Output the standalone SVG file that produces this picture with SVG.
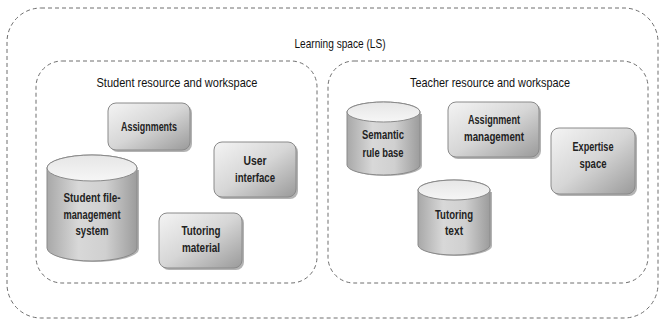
<svg xmlns="http://www.w3.org/2000/svg" width="665" height="326" viewBox="0 0 665 326">
<defs>
<linearGradient id="boxg" x1="0" y1="0" x2="1" y2="1">
<stop offset="0" stop-color="#f4f4f4"/>
<stop offset="0.5" stop-color="#d6d6d6"/>
<stop offset="1" stop-color="#9a9a9a"/>
</linearGradient>
<linearGradient id="cylg" x1="0" y1="0" x2="1" y2="0">
<stop offset="0" stop-color="#a8a8a8"/>
<stop offset="0.35" stop-color="#d8d8d8"/>
<stop offset="0.65" stop-color="#d0d0d0"/>
<stop offset="1" stop-color="#9c9c9c"/>
</linearGradient>
<linearGradient id="topg" x1="0" y1="0" x2="0" y2="1">
<stop offset="0" stop-color="#e6e6e6"/>
<stop offset="1" stop-color="#f6f6f6"/>
</linearGradient>
</defs>
<style>
.dash{fill:none;stroke:#6e6e6e;stroke-width:1;stroke-dasharray:4 3}
.box{fill:url(#boxg);stroke:#8a8a8a;stroke-width:1}
.shadow{fill:#808080;opacity:0.6}
.cyl{fill:url(#cylg);stroke:#8a8a8a;stroke-width:1}
.top{fill:url(#topg);stroke:#8a8a8a;stroke-width:1}
.head{font-family:"Liberation Sans",Arial,sans-serif;font-size:13px;fill:#111;text-anchor:middle}
.lbl{font-family:"Liberation Sans",Arial,sans-serif;font-size:12px;font-weight:bold;fill:#222;text-anchor:middle}
</style>
<g id="learning-space">
<rect class="dash" x="7" y="8" width="651" height="310" rx="34" ry="34"/>
<text class="head" x="340" y="48" textLength="91" lengthAdjust="spacingAndGlyphs">Learning space (LS)</text>
</g>
<g id="student-workspace">
<rect class="dash" x="36" y="61" width="281" height="222" rx="26" ry="26"/>
<text class="head" x="177" y="87" textLength="161" lengthAdjust="spacingAndGlyphs">Student resource and workspace</text>
</g>
<g id="teacher-workspace">
<rect class="dash" x="328" y="61" width="320" height="222" rx="26" ry="26"/>
<text class="head" x="490" y="87" textLength="160" lengthAdjust="spacingAndGlyphs">Teacher resource and workspace</text>
</g>
<g id="assignments">
<rect class="shadow" x="110" y="105" width="82" height="47" rx="8"/>
<rect class="box" x="108" y="103" width="82" height="47" rx="8"/>
<text class="lbl" x="149" y="131" textLength="56" lengthAdjust="spacingAndGlyphs">Assignments</text>
</g>
<g id="user-interface">
<rect class="shadow" x="216" y="144" width="82" height="55" rx="8"/>
<rect class="box" x="214" y="142" width="82" height="55" rx="8"/>
<text class="lbl" x="255" y="165" textLength="23" lengthAdjust="spacingAndGlyphs">User</text>
<text class="lbl" x="255" y="182" textLength="40" lengthAdjust="spacingAndGlyphs">interface</text>
</g>
<g id="student-file-management">
<path class="shadow" d="M49,170 L49,249 A45,13 0 0 0 139,249 L139,170 Z"/>
<path class="cyl" d="M47,168 L47,248 A45,13 0 0 0 137,248 L137,168 A45,13 0 0 0 47,168 Z"/>
<ellipse class="top" cx="92" cy="168" rx="45" ry="13"/>
<text class="lbl" x="92" y="202" textLength="57" lengthAdjust="spacingAndGlyphs">Student file-</text>
<text class="lbl" x="92" y="219" textLength="57" lengthAdjust="spacingAndGlyphs">management</text>
<text class="lbl" x="92" y="235" textLength="33" lengthAdjust="spacingAndGlyphs">system</text>
</g>
<g id="tutoring-material">
<rect class="shadow" x="161" y="215" width="83" height="55" rx="8"/>
<rect class="box" x="159" y="213" width="83" height="55" rx="8"/>
<text class="lbl" x="201" y="235" textLength="39" lengthAdjust="spacingAndGlyphs">Tutoring</text>
<text class="lbl" x="201" y="252" textLength="38" lengthAdjust="spacingAndGlyphs">material</text>
</g>
<g id="semantic-rule-base">
<path class="shadow" d="M349,114 L349,166 A36.5,10 0 0 0 422,166 L422,114 Z"/>
<path class="cyl" d="M347,112 L347,165 A36.5,10 0 0 0 420,165 L420,112 A36.5,10 0 0 0 347,112 Z"/>
<ellipse class="top" cx="383.5" cy="112" rx="36.5" ry="10"/>
<text class="lbl" x="383" y="139" textLength="42" lengthAdjust="spacingAndGlyphs">Semantic</text>
<text class="lbl" x="383" y="157" textLength="41" lengthAdjust="spacingAndGlyphs">rule base</text>
</g>
<g id="assignment-management">
<rect class="shadow" x="450" y="104" width="91" height="55" rx="8"/>
<rect class="box" x="448" y="102" width="91" height="55" rx="8"/>
<text class="lbl" x="494" y="124" textLength="52" lengthAdjust="spacingAndGlyphs">Assignment</text>
<text class="lbl" x="494" y="141" textLength="60" lengthAdjust="spacingAndGlyphs">management</text>
</g>
<g id="expertise-space">
<rect class="shadow" x="553" y="130" width="84" height="66" rx="8"/>
<rect class="box" x="551" y="128" width="84" height="66" rx="8"/>
<text class="lbl" x="593" y="151" textLength="41" lengthAdjust="spacingAndGlyphs">Expertise</text>
<text class="lbl" x="593" y="168" textLength="27" lengthAdjust="spacingAndGlyphs">space</text>
</g>
<g id="tutoring-text">
<path class="shadow" d="M420,192 L420,246 A36,10 0 0 0 492,246 L492,192 Z"/>
<path class="cyl" d="M418,190 L418,245 A36,10 0 0 0 490,245 L490,190 A36,10 0 0 0 418,190 Z"/>
<ellipse class="top" cx="454" cy="190" rx="36" ry="10"/>
<text class="lbl" x="454" y="219" textLength="38" lengthAdjust="spacingAndGlyphs">Tutoring</text>
<text class="lbl" x="454" y="235" textLength="18" lengthAdjust="spacingAndGlyphs">text</text>
</g>
<g id="connectors"></g>
</svg>
